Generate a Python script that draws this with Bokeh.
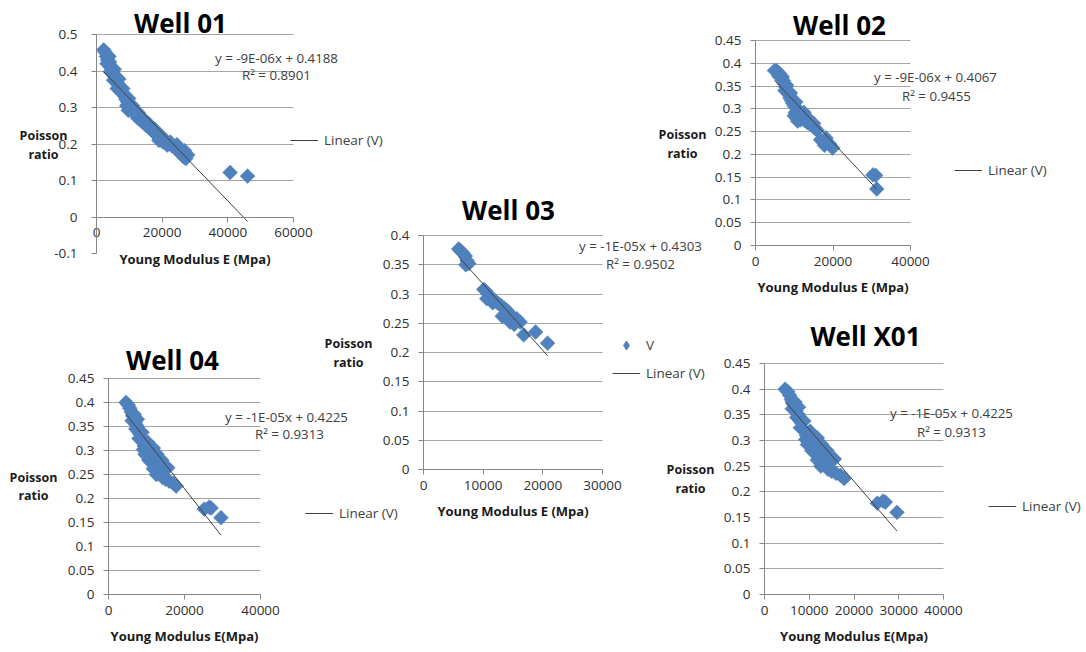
import math
from bokeh.plotting import figure
from bokeh.models import (Range1d, FixedTicker, Label, Legend, LegendItem, LinearAxis, Grid)
from bokeh.embed import file_html
from bokeh.resources import INLINE

# ---------------- data ----------------
# Well 01
w01_E = [2200, 2600, 3000, 3400, 3200, 4000, 4300, 4600, 5000, 4200, 5600, 5200, 6000, 6600,
         7000, 6300, 7600, 8200, 8600, 9000, 9500, 9200, 10000, 9700, 10800, 11500, 12000, 12500,
         13000, 13800, 14500, 15000, 15800, 16500, 17300, 18000, 18800, 19500, 20300, 21000, 22000,
         23000, 24000, 25000, 25800, 26500, 27200, 26800, 27800, 40700, 46000,
         3800, 5400, 6800, 8000, 9800, 11000, 12800, 14200, 16000, 17800, 20000, 22500, 24500, 19000, 21500]
w01_v = [0.458, 0.452, 0.440, 0.430, 0.420, 0.425, 0.410, 0.402, 0.395, 0.398, 0.385, 0.375, 0.370, 0.362,
         0.355, 0.352, 0.345, 0.338, 0.330, 0.322, 0.315, 0.305, 0.300, 0.292, 0.295, 0.288, 0.280, 0.272,
         0.268, 0.262, 0.258, 0.252, 0.248, 0.240, 0.233, 0.228, 0.222, 0.212, 0.205, 0.210, 0.200,
         0.195, 0.188, 0.180, 0.172, 0.165, 0.160, 0.182, 0.170, 0.122, 0.112,
         0.440, 0.405, 0.378, 0.352, 0.325, 0.305, 0.285, 0.270, 0.255, 0.240, 0.220, 0.205, 0.198, 0.210, 0.197]
w01_fit = [-9.37e-6, 0.4188]
w01_eq = ["y = -9E-06x + 0.4188", "R² = 0.8901"]

# Well 02
w02_E = [4900, 5400, 5900, 6400, 6900, 7200, 7500, 7800, 7600, 8200, 8600, 8900, 9300, 9600, 10000,
         10500, 11000, 10300, 11500, 12000, 10600, 10900, 11600, 12200, 12800, 13400, 14000, 14700,
         15300, 15900, 16800, 17400, 18200, 18600, 17800, 19200, 19900, 30300, 31000, 31300,
         6000, 8000, 9000, 10400, 12500, 13500, 15000, 10000]
w02_v = [0.384, 0.384, 0.380, 0.375, 0.370, 0.362, 0.355, 0.348, 0.340, 0.338, 0.332, 0.324, 0.318, 0.312, 0.306,
         0.302, 0.298, 0.292, 0.292, 0.287, 0.280, 0.273, 0.276, 0.279, 0.274, 0.270, 0.267, 0.263,
         0.258, 0.253, 0.232, 0.228, 0.236, 0.226, 0.220, 0.222, 0.214, 0.155, 0.154, 0.124,
         0.372, 0.352, 0.335, 0.315, 0.292, 0.280, 0.268, 0.285]
w02_fit = [-9.04e-6, 0.4067]
w02_eq = ["y = -9E-06x + 0.4067", "R² = 0.9455"]

# Well 03
w03_E = [5900, 6200, 6600, 7000, 7300, 7100, 7600, 10100, 10400, 10800, 11200, 10600, 11500, 12000,
         11600, 12500, 13000, 13500, 14000, 13200, 13800, 14300, 14700, 15200, 14500, 15600, 16200,
         15200, 16800, 18800, 20800]
w03_v = [0.377, 0.374, 0.370, 0.365, 0.357, 0.350, 0.352, 0.308, 0.305, 0.300, 0.296, 0.292, 0.290, 0.288,
         0.285, 0.284, 0.280, 0.276, 0.272, 0.262, 0.264, 0.268, 0.260, 0.255, 0.252, 0.258, 0.252,
         0.248, 0.230, 0.235, 0.216]
w03_fit = [-1.134e-5, 0.4303]
w03_eq = ["y = -1E-05x + 0.4303", "R² = 0.9502"]

# Well 04
w04_E = [4600, 5200, 5600, 6000, 6400, 6800, 6200, 7000, 7400, 7200, 7800, 8200, 8000, 8600, 9000,
         9400, 9200, 9800, 10400, 11000, 11600, 12200, 10600, 11200, 12000, 12600, 13200, 13800,
         14600, 15600, 13000, 13800, 14200, 15000, 16000, 17000, 17800, 25200, 26500, 27000, 29600,
         7600, 8800, 10200, 11800, 12800, 14000, 9600, 11800, 12600]
w04_v = [0.400, 0.395, 0.388, 0.380, 0.372, 0.375, 0.362, 0.358, 0.352, 0.345, 0.340, 0.335, 0.325, 0.322, 0.318,
         0.310, 0.302, 0.305, 0.300, 0.296, 0.290, 0.285, 0.280, 0.276, 0.272, 0.268, 0.262, 0.270,
         0.266, 0.264, 0.255, 0.250, 0.244, 0.240, 0.236, 0.232, 0.226, 0.178, 0.182, 0.180, 0.160,
         0.365, 0.338, 0.318, 0.305, 0.292, 0.280, 0.292, 0.262, 0.250]
w04_fit = [-1.01e-5, 0.4225]
w04_eq = ["y = -1E-05x + 0.4225", "R² = 0.9313"]

# Well X01
wx01_E = [4600, 5200, 5600, 6000, 6400, 6800, 6200, 7000, 7400, 7200, 7800, 8200, 8000, 8600, 9000,
          9400, 9200, 9800, 10400, 11000, 11600, 12200, 10600, 11200, 12000, 12600, 13200, 13800,
          14600, 15600, 13000, 13800, 14200, 15000, 16000, 17000, 17800, 25200, 26500, 27000, 29600,
          7600, 8800, 10200, 11800, 12800, 14000, 9600, 11800, 12600]
wx01_v = [0.400, 0.395, 0.388, 0.380, 0.372, 0.375, 0.362, 0.358, 0.352, 0.345, 0.340, 0.335, 0.325, 0.322, 0.318,
          0.310, 0.302, 0.305, 0.300, 0.296, 0.290, 0.285, 0.280, 0.276, 0.272, 0.268, 0.262, 0.270,
          0.266, 0.264, 0.255, 0.250, 0.244, 0.240, 0.236, 0.232, 0.226, 0.178, 0.182, 0.180, 0.160,
          0.365, 0.338, 0.318, 0.305, 0.292, 0.280, 0.292, 0.262, 0.250]
wx01_fit = [-1.01e-5, 0.4225]
wx01_eq = ["y = -1E-05x + 0.4225", "R² = 0.9313"]

# axes ticks / labels
x_ticks_60k = [0, 20000, 40000, 60000]
x_labels_60k = ["0", "20000", "40000", "60000"]
x_ticks_40k = [0, 20000, 40000]
x_labels_40k = ["0", "20000", "40000"]
x_ticks_30k = [0, 10000, 20000, 30000]
x_labels_30k = ["0", "10000", "20000", "30000"]
x_ticks_40k10 = [0, 10000, 20000, 30000, 40000]
x_labels_40k10 = ["0", "10000", "20000", "30000", "40000"]
y_ticks_01 = [-0.1, 0, 0.1, 0.2, 0.3, 0.4, 0.5]
y_labels_01 = ["-0.1", "0", "0.1", "0.2", "0.3", "0.4", "0.5"]
y_ticks_045 = [0, 0.05, 0.1, 0.15, 0.2, 0.25, 0.3, 0.35, 0.4, 0.45]
y_labels_045 = ["0", "0.05", "0.1", "0.15", "0.2", "0.25", "0.3", "0.35", "0.4", "0.45"]
y_ticks_04 = [0, 0.05, 0.1, 0.15, 0.2, 0.25, 0.3, 0.35, 0.4]
y_labels_04 = ["0", "0.05", "0.1", "0.15", "0.2", "0.25", "0.3", "0.35", "0.4"]

# ---------------- layout (pixels of the reference picture) ----------------
W, H = 1082, 648
BLUE = "#4F81BD"
FONT = "Open Sans"
AXC = "#868686"
GRIDC = "#a6a6a6"

panels = [
    dict(name="Well 01", E=w01_E, v=w01_v, fit=w01_fit, eq=w01_eq,
         xr=(0, 60000), yr=(-0.1, 0.5), xt=x_ticks_60k, xl=x_labels_60k, yt=y_ticks_01, yl=y_labels_01,
         grid=[0.1, 0.2, 0.3, 0.4, 0.5], xloc=0, xlab="Young Modulus E (Mpa)",
         frame=(96, 34, 293, 253), shift=(0, 0), title=(180, 22), eqpos=(276, 57, 276, 74),
         ylab=(43, 135, 154), leg=(290, 140), showV=False, ystand=14),
    dict(name="Well 02", E=w02_E, v=w02_v, fit=w02_fit, eq=w02_eq,
         xr=(0, 40000), yr=(0, 0.45), xt=x_ticks_40k, xl=x_labels_40k, yt=y_ticks_045, yl=y_labels_045,
         grid=y_ticks_045[1:], xloc=0, xlab="Young Modulus E (Mpa)",
         frame=(758, 40, 913, 245), shift=(3, 0), title=(842, 24), eqpos=(938, 76, 939, 95),
         ylab=(685, 134, 153), leg=(957, 170), showV=False, ystand=9),
    dict(name="Well 03", E=w03_E, v=w03_v, fit=w03_fit, eq=w03_eq,
         xr=(0, 30000), yr=(0, 0.4), xt=x_ticks_30k, xl=x_labels_30k, yt=y_ticks_04, yl=y_labels_04,
         grid=y_ticks_04[1:], xloc=0, xlab="Young Modulus E (Mpa)",
         frame=(423, 235, 602, 469), shift=(0, 0), title=(508, 209), eqpos=(640, 245, 640, 263),
         ylab=(348, 343, 362), leg=(612, 373), showV=True, ystand=9),
    dict(name="Well 04", E=w04_E, v=w04_v, fit=w04_fit, eq=w04_eq,
         xr=(0, 40000), yr=(0, 0.45), xt=x_ticks_40k, xl=x_labels_40k, yt=y_ticks_045, yl=y_labels_045,
         grid=y_ticks_045[1:], xloc=0, xlab="Young Modulus E(Mpa)",
         frame=(108, 382, 260, 598), shift=(0, 4), title=(172, 363), eqpos=(286, 420, 289, 437),
         ylab=(33, 481, 499), leg=(305, 517), showV=False, ystand=9),
    dict(name="Well X01", E=wx01_E, v=wx01_v, fit=wx01_fit, eq=wx01_eq,
         xr=(0, 40000), yr=(0, 0.45), xt=x_ticks_40k10, xl=x_labels_40k10, yt=y_ticks_045, yl=y_labels_045,
         grid=y_ticks_045[1:], xloc=0, xlab="Young Modulus E(Mpa)",
         frame=(769, 367, 948, 598), shift=(5, 4), title=(870, 339), eqpos=(956, 416, 956, 435),
         ylab=(695, 473, 492), leg=(993, 510), showV=False, ystand=9),
]

# one canvas; its default ranges are canvas pixels (y downwards)
p = figure(width=W, height=H, x_range=Range1d(0, W), y_range=Range1d(H, 0),
           x_axis_location=None, y_axis_location=None, min_border=0, title=None, tools="",
           toolbar_location=None, output_backend="svg", outline_line_color=None,
           background_fill_color=None, border_fill_color=None)
p.grid.visible = False

HAS_CB = "cross_bounds" in Grid.properties()

ex_ranges, ey_ranges = {}, {}
for i, s in enumerate(panels):
    sx, sy = s["shift"]
    FX0, FY0, FX1, FY1 = s["frame"]
    x0, x1 = FX0 - sx, FX1 - sx
    y0, y1 = FY0 - sy, FY1 - sy
    xmin, xmax = s["xr"]
    ymin, ymax = s["yr"]
    kx = (xmax - xmin) / (x1 - x0)
    ky = (ymax - ymin) / (y1 - y0)
    ex_ranges[f"x{i}"] = Range1d(xmin - x0 * kx, xmin + (W - x0) * kx)
    ey_ranges[f"y{i}"] = Range1d(ymin - (H - y1) * ky, ymax + y0 * ky)
p.extra_x_ranges = ex_ranges
p.extra_y_ranges = ey_ranges


def style_axis(ax):
    ax.axis_line_color = AXC
    ax.major_tick_line_color = AXC
    ax.major_tick_in = 0
    ax.major_tick_out = 5
    ax.minor_tick_line_color = None
    ax.major_label_text_font = FONT
    ax.major_label_text_font_size = "13.5px"
    ax.major_label_text_color = "#303030"


for i, s in enumerate(panels):
    xn, yn = f"x{i}", f"y{i}"
    sx, sy = s["shift"]
    fx = lambda X: X - sx
    fy = lambda Y: Y - sy
    xmin, xmax = s["xr"]
    ymin, ymax = s["yr"]

    # horizontal grid lines
    if HAS_CB:
        g = Grid(dimension=1, ticker=FixedTicker(ticks=s["grid"]), x_range_name=xn, y_range_name=yn,
                 bounds=(ymin, ymax), cross_bounds=(xmin, xmax),
                 grid_line_color=GRIDC, grid_line_width=1)
        p.add_layout(g)
    else:
        p.segment([xmin] * len(s["grid"]), s["grid"], [xmax] * len(s["grid"]), s["grid"],
                  x_range_name=xn, y_range_name=yn, line_color=GRIDC, line_width=1)

    # axes
    xa = LinearAxis(x_range_name=xn, y_range_name=yn, fixed_location=s["xloc"], bounds=(xmin, xmax),
                    ticker=FixedTicker(ticks=s["xt"]),
                    major_label_overrides={t: l for t, l in zip(s["xt"], s["xl"])})
    style_axis(xa)
    xa.major_label_standoff = 6
    xa.axis_label = s["xlab"]
    xa.axis_label_text_font = FONT
    xa.axis_label_text_font_style = "bold"
    xa.axis_label_text_font_size = "13px"
    xa.axis_label_text_color = "#1a1a1a"
    xa.axis_label_standoff = 9
    p.add_layout(xa, "below")

    ya = LinearAxis(x_range_name=xn, y_range_name=yn, fixed_location=xmin, bounds=(ymin, ymax),
                    ticker=FixedTicker(ticks=s["yt"]),
                    major_label_overrides={t: l for t, l in zip(s["yt"], s["yl"])})
    style_axis(ya)
    ya.major_label_standoff = s["ystand"]
    p.add_layout(ya, "left")

    # data
    p.scatter(s["E"], s["v"], marker="square", angle=math.pi / 4, size=10.5,
              fill_color=BLUE, line_color=BLUE, line_width=0.5, x_range_name=xn, y_range_name=yn)
    m, b = s["fit"]
    ex = [min(s["E"]), max(s["E"])]
    ln = p.line(ex, [b + m * e for e in ex], line_color="#404040", line_width=1,
                x_range_name=xn, y_range_name=yn)

    # texts
    tx, ty = s["title"]
    p.add_layout(Label(x=fx(tx), y=fy(ty), text=s["name"], text_align="center", text_baseline="middle",
                       text_font=FONT, text_font_style="bold", text_font_size="26px", text_color="#000000"))
    e1x, e1y, e2x, e2y = s["eqpos"]
    for (X, Y, t) in ((e1x, e1y, s["eq"][0]), (e2x, e2y, s["eq"][1])):
        p.add_layout(Label(x=fx(X), y=fy(Y), text=t, text_align="center", text_baseline="middle",
                           text_font=FONT, text_font_size="13.3px", text_color="#404040"))
    lx, ly1, ly2 = s["ylab"]
    for (Y, t) in ((ly1, "Poisson"), (ly2, "ratio")):
        p.add_layout(Label(x=fx(lx), y=fy(Y), text=t, text_align="center", text_baseline="middle",
                           text_font=FONT, text_font_style="bold", text_font_size="12.5px",
                           text_color="#1a1a1a"))

    # legend
    items = []
    if s["showV"]:
        vr = p.scatter(s["E"][:1], s["v"][:1], marker="diamond", size=12, fill_color=BLUE,
                       line_color=BLUE, x_range_name=xn, y_range_name=yn, visible=False)
        items.append(LegendItem(label="V", renderers=[vr]))
    items.append(LegendItem(label="Linear (V)", renderers=[ln]))
    gx, gy = s["leg"]
    leg = Legend(items=items, location=(int(fx(gx)), int(H - (fy(gy) + 11))),
                 orientation="vertical", padding=0, margin=0, spacing=6,
                 glyph_width=28, glyph_height=22, label_height=22, label_standoff=6,
                 label_text_font=FONT, label_text_font_size="13.5px", label_text_color="#404040",
                 background_fill_alpha=0, border_line_alpha=0)
    p.add_layout(leg)

open("out.html", "w").write(file_html(p, INLINE))
